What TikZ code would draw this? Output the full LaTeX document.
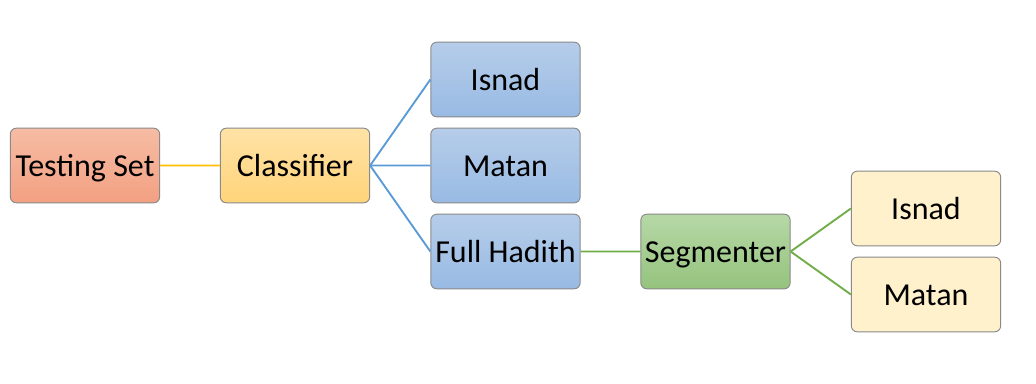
\documentclass[tikz,border=0pt]{standalone}
\usepackage{fontspec}
\setmainfont{Carlito}
\definecolor{edgegray}{HTML}{8A8A8A}
\definecolor{salmonTop}{HTML}{F6BCA4}
\definecolor{salmonBot}{HTML}{F3A082}
\definecolor{goldTop}{HTML}{FFE2A6}
\definecolor{goldBot}{HTML}{FFD47A}
\definecolor{blueTop}{HTML}{B6CDEA}
\definecolor{blueBot}{HTML}{98BAE3}
\definecolor{greenTop}{HTML}{B6D8A6}
\definecolor{greenBot}{HTML}{95C37D}
\definecolor{cream}{HTML}{FFF1CC}
\definecolor{lineGold}{HTML}{FFC000}
\definecolor{lineBlue}{HTML}{5B9BD5}
\definecolor{lineGreen}{HTML}{70AD47}
\tikzset{
  box/.style={draw=edgegray, line width=0.7pt, rounded corners=4.5pt,
    minimum width=112pt, minimum height=56pt, inner sep=0pt,
    text height=19pt, text depth=2pt,
    font=\fontsize{24}{27}\selectfont},
  salmonbox/.style={box, top color=salmonTop, bottom color=salmonBot},
  goldbox/.style={box, top color=goldTop, bottom color=goldBot},
  bluebox/.style={box, top color=blueTop, bottom color=blueBot},
  greenbox/.style={box, top color=greenTop, bottom color=greenBot},
  creambox/.style={box, fill=cream},
  link/.style={line width=1.4pt},
}
\begin{document}
\begin{tikzpicture}[x=0.75pt, y=-0.75pt]
  \fill[white] (0,0) rectangle (1036,383);
  \useasboundingbox (0,0) rectangle (1036,383);

  \node[salmonbox] (test) at (85,165.5) {Testing Set};
  \node[goldbox]   (cls)  at (295,165.5) {Classifier};
  \node[bluebox]   (isA)  at (505.5,79.5) {Isnad};
  \node[bluebox]   (maA)  at (505.5,165.5) {Matan};
  \node[bluebox]   (full) at (505.5,251.5) {Full Hadith};
  \node[greenbox]  (seg)  at (715.5,251.5) {Segmenter};
  \node[creambox]  (isB)  at (926,208.5) {Isnad};
  \node[creambox]  (maB)  at (926,294.5) {Matan};

  % straight runs get a hair of slope so they stroke at full width
  \draw[link, lineGold] (test.east) -- ([yshift=0.02pt]cls.west);
  \draw[link, lineBlue] (cls.east) -- (isA.west);
  \draw[link, lineBlue] (cls.east) -- ([yshift=0.02pt]maA.west);
  \draw[link, lineBlue] (cls.east) -- (full.west);
  \draw[link, lineGreen] (full.east) -- ([yshift=0.02pt]seg.west);
  \draw[link, lineGreen] (seg.east) -- (isB.west);
  \draw[link, lineGreen] (seg.east) -- (maB.west);
\end{tikzpicture}
\end{document}
